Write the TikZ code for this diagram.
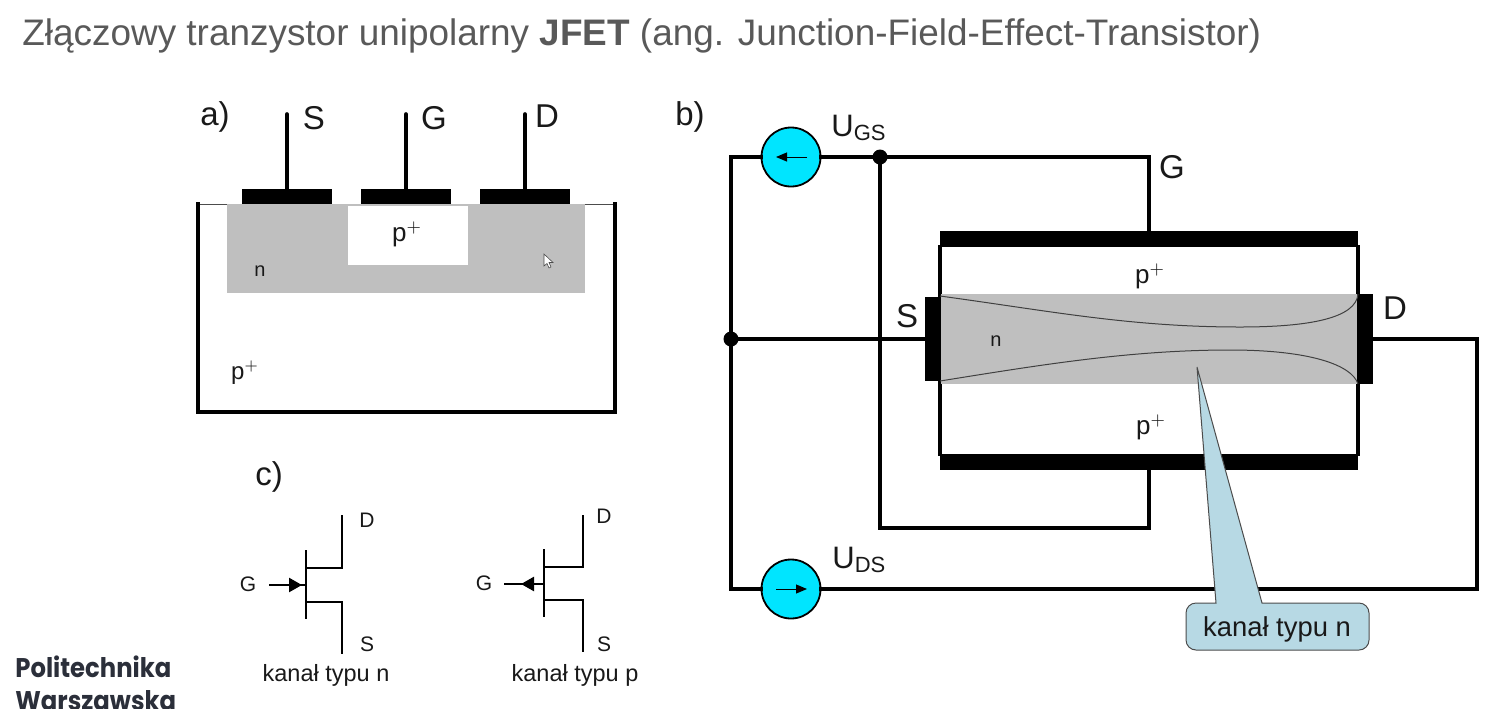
\documentclass[tikz,border=0pt]{standalone}
\usepackage{fontspec}
\setmainfont{Liberation Sans}
\newfontfamily\logofont{Poppins}[FakeStretch=0.9]
\usetikzlibrary{arrows.meta}
\definecolor{titlegray}{HTML}{595959}
\definecolor{chan}{HTML}{BFBFBF}
\definecolor{srccyan}{HTML}{00E5FF}
\definecolor{calloutblue}{HTML}{B7D9E4}
\definecolor{logoink}{HTML}{2B2F3A}
\tikzset{
  wire/.style={line width=1.6pt,black,line cap=rect,line join=miter},
  lead/.style={line width=1.8pt,black,line cap=round},
  thinwire/.style={line width=1.2pt,black,line cap=butt},
  hairline/.style={line width=0.5pt,black!75},
  plate/.style={fill=black,draw=none,inner sep=0pt,outer sep=0pt,rectangle},
  chanbox/.style={fill=chan,draw=none,inner sep=0pt,outer sep=0pt,rectangle},
  dotnode/.style={circle,fill=black,draw=none,inner sep=0pt,outer sep=0pt,minimum size=7.5pt},
  srcnode/.style={circle,fill=srccyan,draw=black,line width=0.9pt,inner sep=0pt,outer sep=0pt,minimum size=29.5pt},
  lab/.style={inner sep=0pt,outer sep=0pt,font=\fontsize{16.5}{16.5}\selectfont,text=black!90},
  smalltext/.style={inner sep=0pt,outer sep=0pt,font=\fontsize{10.5}{10.5}\selectfont,text=black!90},
  captext/.style={inner sep=0pt,outer sep=0pt,font=\fontsize{11.75}{12}\selectfont,text=black!90},
  ptext/.style={inner sep=0pt,outer sep=0pt,font=\fontsize{13}{13}\selectfont,text=black!90},
  ntext/.style={inner sep=0pt,outer sep=0pt,font=\fontsize{10}{10}\selectfont,text=black!90},
  volt/.style={inner sep=0pt,anchor=base west,font=\fontsize{15.5}{15.5}\selectfont,text=black!90},
  logotext/.style={anchor=base west,inner sep=0pt,text=logoink,font=\logofont\bfseries\fontsize{13.5}{13.5}\selectfont},
  srcarrow/.style={line width=0.5pt,-{Triangle[length=5.5pt,width=4.5pt]}},
  gatearrow/.style={line width=1.2pt,-{Triangle[length=6.5pt,width=7pt]}},
}
\begin{document}
\begin{tikzpicture}[x=0.5pt,y=-0.5pt]
\useasboundingbox[fill=white] (0,0) rectangle (1500,708);
% title
\node[anchor=base west,inner sep=0pt,text=titlegray,font=\fontsize{18.46}{19}\selectfont] (title) at (22,45)
  {Złączowy tranzystor unipolarny \textbf{JFET} (ang. Junction-Field-Effect-Transistor)};
% panel a
\node[lab,anchor=base] (la) at (215,125) {a)};
\draw[line width=0.5pt,black!70] (198,204) -- (615,204);
\coordinate (aTL) at (198,204); \coordinate (aTR) at (615,204);
\coordinate (aBL) at (198,412); \coordinate (aBR) at (615,412);
\draw[wire] (aTL) -- (aBL) -- (aBR) -- (aTR);
\node[chanbox,minimum width=179pt,minimum height=44.5pt] (achan) at (406,248.75) {};
\node[rectangle,fill=white,inner sep=0pt,minimum width=60pt,minimum height=29.5pt] (awell) at (408,235.25) {};
\node[plate,minimum width=45pt,minimum height=7.5pt] (cS) at (287,196.5) {};
\node[plate,minimum width=45pt,minimum height=7.5pt] (cG) at (406,196.5) {};
\node[plate,minimum width=45pt,minimum height=7.5pt] (cD) at (525,196.5) {};
\coordinate (tS) at (287,114); \coordinate (tG) at (406,114); \coordinate (tD) at (525,114);
\draw[lead] (cS.north) -- (tS);
\draw[lead] (cG.north) -- (tG);
\draw[lead] (cD.north) -- (tD);
\node[lab,anchor=base] (aS) at (314,129) {S};
\node[lab,anchor=base] (aG) at (434,129) {G};
\node[lab,anchor=base] (aD) at (547,127) {D};
\node[ptext,anchor=base] (awp) at (407,241) {p$^{+}$};
\node[ntext,anchor=base] (an) at (260,276) {n};
\node[ptext,anchor=base,font=\fontsize{12}{12}\selectfont] (asub) at (245,379) {p$^{+}$};
% mouse pointer
\draw[line width=0.3pt,black!70,fill=white] (544,254) -- (544,266) -- (547,263.5) -- (549,268) -- (551,267) -- (549,262.5) -- (553,262.5) -- cycle;
% panel b
\node[lab,anchor=base] (lb) at (690,125) {b)};
\node[chanbox,minimum width=209pt,minimum height=45pt] (bchan) at (1149,339) {};
\node[plate,minimum width=209pt,minimum height=8pt] (ptop) at (1149,239) {};
\node[plate,minimum width=209pt,minimum height=8pt] (pbot) at (1149,462) {};
\node[plate,minimum width=7.5pt,minimum height=42pt] (bS) at (932.5,339) {};
\node[plate,minimum width=7.5pt,minimum height=45pt] (bD) at (1365.5,339) {};
\draw[wire] (ptop.south west) -- (pbot.north west);
\draw[wire] (ptop.south east) -- (pbot.north east);
\fill[chan] (941,294) rectangle (1357,384);
\coordinate (cA) at (940,296); \coordinate (cB) at (1358,294);
\coordinate (cC) at (940,381); \coordinate (cE) at (1358,384);
\draw[hairline] (cA) .. controls (1050,311) and (1130,327) .. (1240,327) .. controls (1310,327) and (1356,318) .. (cB);
\draw[hairline] (cC) .. controls (1040,365) and (1130,350) .. (1230,350) .. controls (1310,350) and (1352,365) .. (cE);
\node[srcnode] (ugs) at (791,157) {};
\node[srcnode] (uds) at (791,589) {};
\node[dotnode] (jg) at (880,157) {};
\node[dotnode] (js) at (731,339) {};
\coordinate (bTL) at (731,157);
\coordinate (bBL) at (731,589);
\coordinate (gT) at (1149,157);
\coordinate (gB) at (1149,528);
\coordinate (gBL) at (880,528);
\coordinate (dR) at (1477,339);
\coordinate (dB) at (1477,589);
\draw[wire] (ugs.west) -- (bTL) -- (js.north);
\draw[wire] (js.south) -- (bBL) -- (uds.west);
\draw[wire] (ugs.east) -- (jg.west);
\draw[wire] (jg.east) -- (gT) -- (ptop.north);
\draw[wire] (jg.south) -- (gBL) -- (gB) -- (pbot.south);
\draw[wire] (js.east) -- (bS.west);
\draw[wire] (bD.east) -- (dR) -- (dB) -- (uds.east);
\draw[srcarrow] (807,157) -- (776,157);
\draw[srcarrow] (776,589) -- (807,589);
\node[volt] (lugs) at (831,136) {U\raisebox{-2.2pt}{\fontsize{11}{11}\selectfont GS}};
\node[volt] (luds) at (832,568) {U\raisebox{-2.2pt}{\fontsize{11}{11}\selectfont DS}};
\node[lab,anchor=base] (bG) at (1172,178) {G};
\node[lab,anchor=base] (bSl) at (907,327) {S};
\node[lab,anchor=base] (bDl) at (1395,319) {D};
\node[ptext,anchor=base] (ptopl) at (1150,283) {p$^{+}$};
\node[ptext,anchor=base] (pbotl) at (1151,434) {p$^{+}$};
\node[ntext,anchor=base] (bn) at (996,346) {n};
% callout
\coordinate (ctip) at (1197,367);
\draw[line width=0.5pt,draw=black!70,fill=calloutblue]
  (ctip) [sharp corners] -- (1262,603) [rounded corners=5pt] -- (1369,603) -- (1369,650) -- (1186,650) -- (1186,603) [sharp corners] -- (1216,603) -- cycle;
\node[captext,font=\fontsize{13.7}{14}\selectfont] (ctext) at (1277,629) {kanał typu n};
% panel c
\node[lab,anchor=base] (lc) at (269,485) {c)};
% n symbol
\coordinate (nBarT) at (306,550); \coordinate (nBarB) at (306,619);
\coordinate (nU) at (306,568); \coordinate (nUc) at (342,568); \coordinate (nD) at (342,515);
\coordinate (nL) at (306,602); \coordinate (nLc) at (342,602); \coordinate (nS) at (342,654);
\coordinate (nG) at (306,585); \coordinate (nGl) at (269,585);
\draw[thinwire] (nBarT) -- (nBarB);
\draw[thinwire] (nU) -- (nUc) -- (nD);
\draw[thinwire] (nL) -- (nLc) -- (nS);
\draw[gatearrow] (nGl) -- (302,585);
\draw[thinwire] (300,585) -- (nG);
\node[smalltext,anchor=base] (nGt) at (248,591) {G};
\node[smalltext,anchor=base] (nDt) at (367,527) {D};
\node[smalltext,anchor=base] (nSt) at (367,651) {S};
\node[captext] (ncap) at (326,675) {kanał typu n};
% p symbol
\coordinate (pBarT) at (544,549); \coordinate (pBarB) at (544,617);
\coordinate (pU) at (544,567); \coordinate (pUc) at (583,567); \coordinate (pD) at (583,515);
\coordinate (pL) at (544,600); \coordinate (pLc) at (583,600); \coordinate (pS) at (583,652);
\coordinate (pG) at (544,584); \coordinate (pGl) at (504,584);
\draw[thinwire] (pBarT) -- (pBarB);
\draw[thinwire] (pU) -- (pUc) -- (pD);
\draw[thinwire] (pL) -- (pLc) -- (pS);
\draw[gatearrow] (pG) -- (521,584);
\draw[thinwire] (pGl) -- (530,584);
\node[smalltext,anchor=base] (pGt) at (484,590) {G};
\node[smalltext,anchor=base] (pDt) at (604,523) {D};
\node[smalltext,anchor=base] (pSt) at (604,651) {S};
\node[captext] (pcap) at (575,675) {kanał typu p};
% logo
\node[logotext] (logo1) at (15,677) {Politechnika};
\node[logotext] (logo2) at (15,710) {Warszawska};
\end{tikzpicture}
\end{document}
